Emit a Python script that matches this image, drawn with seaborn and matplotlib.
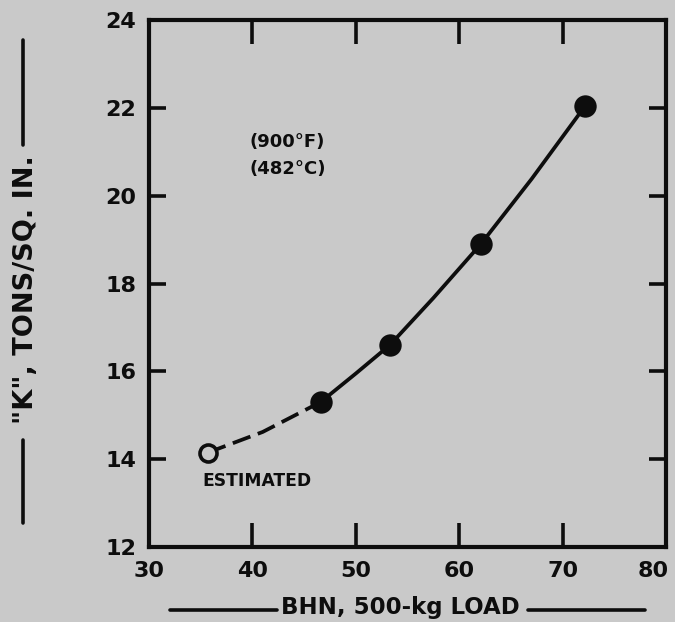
import matplotlib
matplotlib.use("Agg")
import matplotlib.pyplot as plt
import matplotlib.transforms as mtransforms
import seaborn as sns
from matplotlib.lines import Line2D

# measured points (BHN, K)
bhn = [35.7, 46.6, 53.3, 62.1, 72.2]
k_val = [14.15, 15.3, 16.6, 18.9, 22.05]
estimated = [True, False, False, False, False]

# curve
dash_x = [35.7, 41.0, 46.6]
dash_y = [14.15, 14.62, 15.3]
solid_x = [46.6, 50.0, 53.3, 57.5, 62.1, 67.0, 72.2]
solid_y = [15.3, 15.95, 16.6, 17.67, 18.9, 20.38, 22.05]

x_ticks = [30, 40, 50, 60, 70, 80]
y_ticks = [12, 14, 16, 18, 20, 22, 24]

paper = "#c9c9c9"
ink = "#0d0d0d"

sns.set_theme(style="white")
plt.rcParams["font.family"] = ["DejaVu Sans"]
plt.rcParams["font.weight"] = "bold"

fig = plt.figure(figsize=(6.75, 6.22), dpi=100, facecolor=paper)
ax = fig.add_axes([0.2207, 0.1206, 0.7660, 0.8472])
ax.set_facecolor(paper)

sns.lineplot(x=dash_x, y=dash_y, color=ink, lw=2.7, linestyle=(0, (5.0, 2.1)),
             sort=False, estimator=None, ax=ax, zorder=2)
sns.lineplot(x=solid_x, y=solid_y, color=ink, lw=2.7,
             sort=False, estimator=None, ax=ax, zorder=2)

filled_x = [x for x, e in zip(bhn, estimated) if not e]
filled_y = [y for y, e in zip(k_val, estimated) if not e]
open_x = [x for x, e in zip(bhn, estimated) if e]
open_y = [y for y, e in zip(k_val, estimated) if e]
sns.scatterplot(x=filled_x, y=filled_y, s=260, color=ink, edgecolor=ink,
                linewidth=0, ax=ax, zorder=3)
sns.scatterplot(x=open_x, y=open_y, s=150, facecolor=paper, edgecolor=ink,
                linewidth=2.6, ax=ax, zorder=3)

ax.set_xlim(30, 80)
ax.set_ylim(12, 24)
ax.set_xticks(x_ticks)
ax.set_yticks(y_ticks)
ax.set_xticklabels([str(v) for v in x_ticks], fontsize=16, fontweight="bold", color=ink)
ax.set_yticklabels([str(v) for v in y_ticks], fontsize=16, fontweight="bold", color=ink)
ax.tick_params(axis="x", direction="in", length=17, width=2.6, pad=10,
               top=True, bottom=True, color=ink)
ax.tick_params(axis="y", direction="in", length=12, width=2.6, pad=9,
               left=True, right=True, color=ink)
for sp in ax.spines.values():
    sp.set_visible(True)
    sp.set_linewidth(3.0)
    sp.set_color(ink)

# last x label sits a little left of the corner in the original
last = ax.get_xticklabels()[-1]
last.set_transform(last.get_transform() +
                   mtransforms.ScaledTranslation(-9 / 72, 0, fig.dpi_scale_trans))

ax.text(39.7, 21.1, "(900°F)", fontsize=13, fontweight="bold", color=ink)
ax.text(39.7, 20.5, "(482°C)", fontsize=13, fontweight="bold", color=ink)
ax.text(35.2, 13.4, "ESTIMATED", fontsize=12.3, fontweight="bold", color=ink)

# axis titles with rules on either side, as in the original
fig.text(0.593, 0.024, "BHN, 500-kg LOAD", ha="center", va="center",
         fontsize=16.5, fontweight="bold", color=ink)
fig.add_artist(Line2D([0.252, 0.410], [0.020, 0.020], color=ink, lw=2.6))
fig.add_artist(Line2D([0.782, 0.955], [0.020, 0.020], color=ink, lw=2.6))

fig.text(0.039, 0.534, '"K", TONS/SQ. IN.', ha="center", va="center",
         rotation=90, fontsize=19.5, fontweight="bold", color=ink)
fig.add_artist(Line2D([0.034, 0.034], [0.159, 0.293], color=ink, lw=2.6))
fig.add_artist(Line2D([0.034, 0.034], [0.767, 0.936], color=ink, lw=2.6))

fig.savefig("out.png", dpi=100, facecolor=paper)
